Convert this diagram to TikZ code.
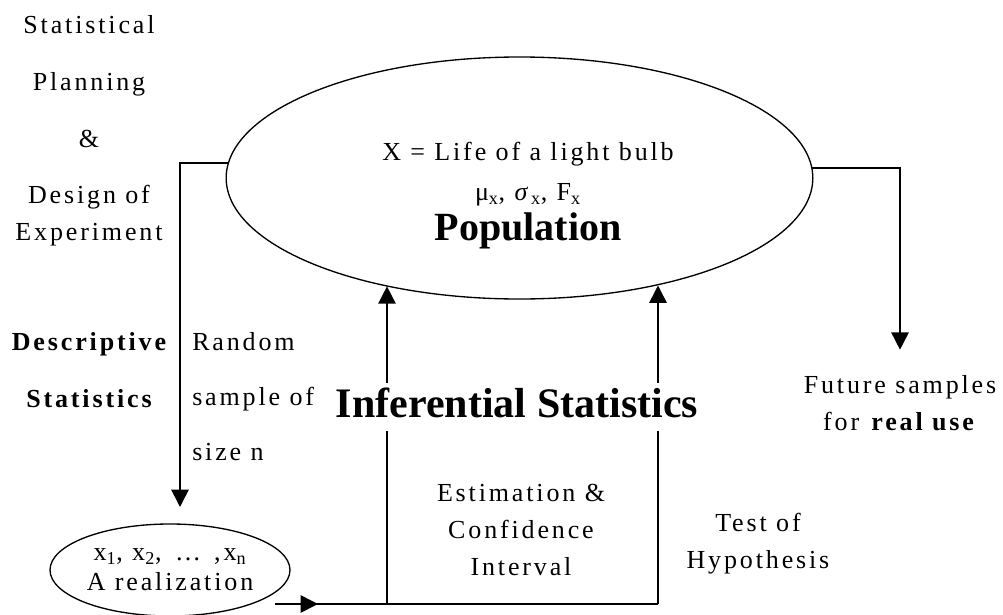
\documentclass[tikz,border=0pt]{standalone}
\usepackage{fontspec}
\setmainfont{Liberation Serif}
\newfontfamily\spaced[LetterSpace=11]{Liberation Serif}
\usetikzlibrary{arrows.meta,shapes.geometric}

\begin{document}
\begin{tikzpicture}[x=0.75pt,y=-0.75pt,
  txt/.style={inner sep=0pt, align=center, font=\spaced\fontsize{19.5}{27.75}\selectfont},
  head/.style={inner sep=0pt, font=\bfseries\fontsize{#1}{#1}\selectfont},
  oval/.style={draw, ellipse, line width=1pt, inner sep=0pt},
  line/.style={line width=1.2pt},
  arr/.style={-{Triangle[length=13pt,width=13pt]}, line width=1.2pt}]
  \useasboundingbox (0,0) rectangle (1003,614);
  % population and sample
  \node[oval, minimum width=440pt, minimum height=181.5pt] (pop) at (519.5,178) {};
  \node[txt, anchor=base] (poptxt) at (528,200) {X = Life of a light bulb\\[2.25pt] μ\textsubscript{x}, \textit{σ}\textsubscript{x}, F\textsubscript{x}};
  \node[head=30, anchor=base] (popname) at (528,240) {Population};
  \node[txt, oval, minimum width=180pt, minimum height=69pt] (samp) at (170,570) {x\textsubscript{1}, x\textsubscript{2}, \,…\enspace ,x\textsubscript{n}\\[-5.25pt] A realization};
  % side labels (base = last line)
  \node[txt, anchor=base] (plan) at (89,240) {Statistical\\[15pt] Planning\\[15pt] \&\\[14pt] Design of\\ Experiment};
  \node[txt, anchor=base] (desc) at (89,407) {\bfseries Descriptive\\[15pt] \bfseries Statistics};
  \node[txt, anchor=base west, align=left] (rand) at (192,460) {Random\\[13.5pt] sample of\\[13.5pt] size n};
  \node[txt, anchor=base] (est) at (521,575) {Estimation \&\\ Confidence\\ Interval};
  \node[txt, anchor=base] (test) at (758,568) {Test of\\ Hypothesis};
  \node[txt, anchor=base] (future) at (900,430) {Future samples\\ for \textbf{real use}};
  % connectors
  \coordinate (dtip) at (180,507);
  \coordinate (bstart) at (275,604);
  \coordinate (jl) at (387,604);
  \coordinate (jr) at (658,604);
  \draw[arr] (pop.177.5) -| (dtip);
  \draw[arr, shorten >=18.75pt] (pop.2.5) -| (future.north);
  \draw[line] (bstart) -- (jr);
  \draw[arr] (bstart) -- ++(43,0);
  \draw[arr] (jl) -- (jl |- pop.219);
  \draw[arr] (jr) -- (jr |- pop.322);
  \node[head=31.5, anchor=base, fill=white, text height=25.5pt, text depth=10.5pt] (infer) at (517,417) {Inferential Statistics};
\end{tikzpicture}
\end{document}
